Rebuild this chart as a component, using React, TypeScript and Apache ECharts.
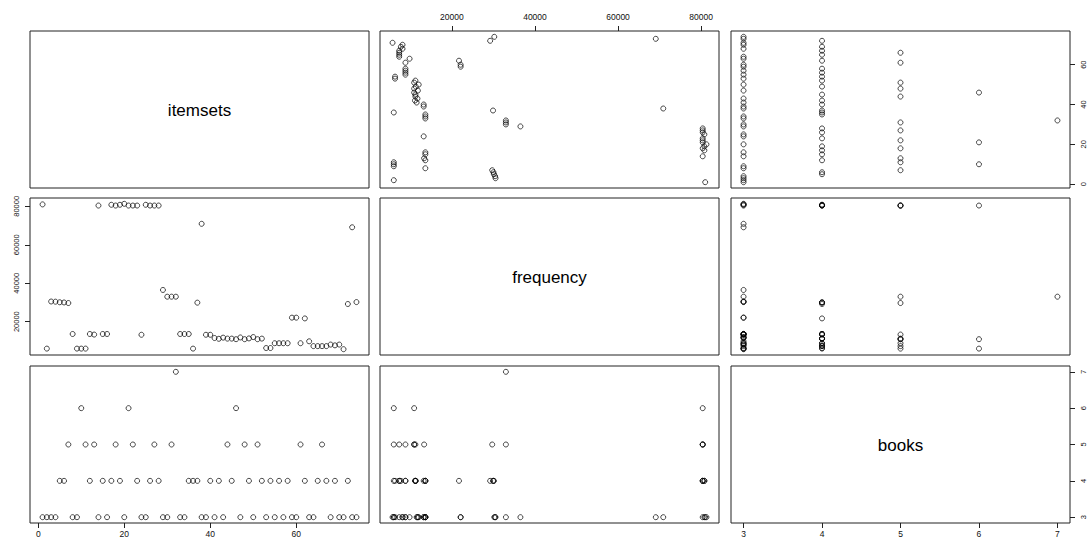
import React, { useEffect, useRef } from "react";
import * as echarts from "echarts";

const itemsets = [
  1, 2, 3, 4, 5, 6, 7, 8, 9, 10, 11, 12, 13, 14, 15, 16, 17, 18, 19, 20,
  21, 22, 23, 24, 25, 26, 27, 28, 29, 30, 31, 32, 33, 34, 35, 36, 37, 38, 39, 40,
  41, 42, 43, 44, 45, 46, 47, 48, 49, 50, 51, 52, 53, 54, 55, 56, 57, 58, 59, 60,
  61, 62, 63, 64, 65, 66, 67, 68, 69, 70, 71, 72, 73, 74,
];

const frequency = [
  81000, 6000, 30500, 30400, 30100, 30000, 29700, 13600, 6000, 6000,
  6000, 13600, 13300, 80400, 13600, 13600, 80800, 80400, 80800, 81300,
  80400, 80400, 80400, 13200, 80800, 80400, 80400, 80400, 36500, 33000,
  33000, 33000, 13600, 13600, 13600, 6000, 29900, 70900, 13200, 13200,
  11500, 11100, 11700, 11200, 11200, 10900, 11800, 10900, 11300, 12000,
  10900, 11200, 6300, 6300, 8800, 8800, 8800, 8800, 22100, 22100,
  8800, 21700, 9800, 7300, 7300, 7300, 7300, 8100, 7700, 8100,
  5700, 29200, 69100, 30200,
];

const books = [
  3, 3, 3, 3, 4, 4, 5, 3, 3, 6, 5, 4, 5, 3, 4, 3, 4, 5, 4, 3,
  6, 5, 4, 3, 3, 4, 5, 4, 3, 3, 5, 7, 3, 3, 4, 4, 4, 3, 3, 4,
  3, 4, 3, 5, 4, 6, 3, 5, 4, 3, 5, 4, 3, 4, 3, 4, 3, 4, 3, 3,
  5, 4, 3, 3, 4, 5, 4, 3, 4, 3, 3, 4, 3, 3,
];

const varNames = ["itemsets", "frequency", "books"];
const itemsetTicks = [0, 20, 40, 60];
const frequencyTicks = [20000, 40000, 60000, 80000];
const booksTicks = [3, 4, 5, 6, 7];

const vars = [itemsets, frequency, books];
const ticks = [itemsetTicks, frequencyTicks, booksTicks];

const colLeft = [30, 380, 731];
const rowTop = [31, 198, 366];
const panelW = 339;
const panelH = 157;

const FONT = "'Liberation Sans', Arial, sans-serif";

function range(arr: number[]) {
  const mn = Math.min(...arr);
  const mx = Math.max(...arr);
  const ext = (mx - mn) * 0.04;
  return [mn - ext, mx + ext];
}

export default function App() {
  const ref = useRef<HTMLDivElement>(null);
  useEffect(() => {
    if (!ref.current) return;
    const chart = echarts.init(ref.current, null, { renderer: "svg" });
    const ranges = vars.map(range);
    const grids: any[] = [];
    const xAxes: any[] = [];
    const yAxes: any[] = [];
    const series: any[] = [];
    const graphics: any[] = [];

    for (let r = 0; r < 3; r++) {
      for (let c = 0; c < 3; c++) {
        const gi = r * 3 + c;
        grids.push({
          left: colLeft[c],
          top: rowTop[r],
          width: panelW,
          height: panelH,
          show: true,
          borderColor: "#222",
          borderWidth: 1,
          backgroundColor: "transparent",
        });
        let xPos: string | null = null;
        if (c === 0 && r === 2) xPos = "bottom";
        if (c === 1 && r === 0) xPos = "top";
        if (c === 2 && r === 2) xPos = "bottom";
        let yPos: string | null = null;
        if (r === 0 && c === 2) yPos = "right";
        if (r === 1 && c === 0) yPos = "left";
        if (r === 2 && c === 2) yPos = "right";

        xAxes.push({
          type: "value",
          gridIndex: gi,
          min: ranges[c][0],
          max: ranges[c][1],
          show: xPos !== null,
          position: xPos || "bottom",
          axisLine: { show: false, onZero: false },
          splitLine: { show: false },
          axisTick: {
            show: true,
            inside: false,
            length: 5,
            customValues: ticks[c],
            lineStyle: { color: "#222", width: 1 },
          },
          axisLabel: {
            show: true,
            customValues: ticks[c],
            formatter: (v: number) => String(v),
            fontSize: 8.5,
            fontFamily: FONT,
            color: "#111",
            margin: xPos === "top" ? 10 : 6,
          },
        });
        yAxes.push({
          type: "value",
          gridIndex: gi,
          min: ranges[r][0],
          max: ranges[r][1],
          show: yPos !== null,
          position: yPos || "left",
          axisLine: { show: false, onZero: false },
          splitLine: { show: false },
          axisTick: {
            show: true,
            inside: false,
            length: 5,
            customValues: ticks[r],
            lineStyle: { color: "#222", width: 1 },
          },
          axisLabel: {
            show: true,
            customValues: ticks[r],
            formatter: (v: number) => String(v),
            rotate: 90,
            fontSize: 7.5,
            fontFamily: FONT,
            color: "#111",
            margin: yPos === "left" ? 10 : 9,
          },
        });

        if (r !== c) {
          const xs = vars[c];
          const ys = vars[r];
          series.push({
            type: "scatter",
            xAxisIndex: gi,
            yAxisIndex: gi,
            symbol: "circle",
            symbolSize: 5,
            itemStyle: {
              color: "rgba(0,0,0,0)",
              borderColor: "#000",
              borderWidth: 0.9,
            },
            emphasis: { disabled: true },
            data: xs.map((x, i) => [x, ys[i]]),
          });
        } else {
          graphics.push({
            type: "text",
            x: colLeft[c] + panelW / 2,
            y: rowTop[r] + panelH / 2 + 1,
            style: {
              text: varNames[r],
              fontSize: 17,
              fontFamily: FONT,
              fill: "#000",
              textAlign: "center",
              textVerticalAlign: "middle",
              align: "center",
              verticalAlign: "middle",
            },
          });
        }
      }
    }

    chart.setOption({
      animation: false,
      backgroundColor: "#fff",
      grid: grids,
      xAxis: xAxes,
      yAxis: yAxes,
      series,
      graphic: graphics,
    });
    return () => chart.dispose();
  }, []);
  return (
    <div
      ref={ref}
      style={{ position: "fixed", left: 0, top: 0, width: 1087, height: 543 }}
    />
  );
}
